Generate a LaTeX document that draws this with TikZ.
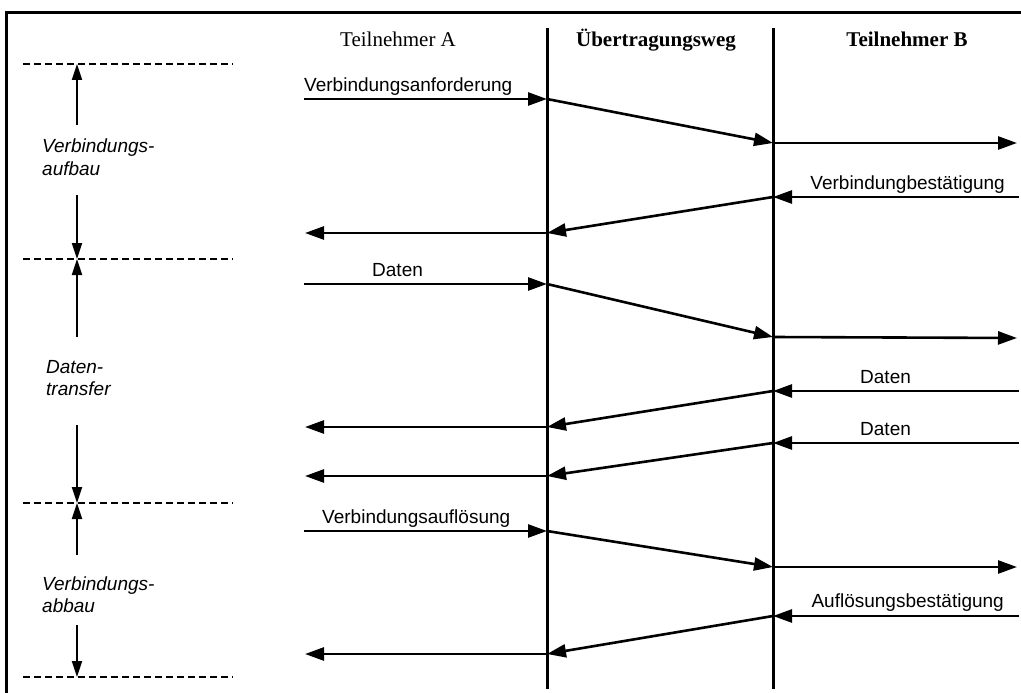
\documentclass[tikz,border=0pt]{standalone}
\usepackage{fontspec}
\setmainfont{Liberation Serif}
\newfontfamily\arialfont{Liberation Sans}
\usetikzlibrary{arrows.meta}

\begin{document}
\begin{tikzpicture}[x=1pt,y=-1pt,
  lane/.style={line width=3pt},
  frameline/.style={line width=3pt},
  msg/.style={line width=2.6pt,-{Triangle[length=19pt,width=13pt]}},
  phase/.style={line width=1.8pt,-{Triangle[length=16pt,width=10pt]}},
  sep/.style={line width=1.8pt,dash pattern=on 7pt off 4pt},
  lbl/.style={font=\arialfont\fontsize{19}{22}\selectfont,inner sep=0pt},
  phaselbl/.style={font=\arialfont\itshape\fontsize{19}{22}\selectfont,inner sep=0pt,anchor=base west},
  head/.style={font=\fontsize{21}{24}\selectfont,inner sep=0pt,anchor=base}
]
\useasboundingbox (0,0) rectangle (1021,693);

% frame (top and left edges)
\coordinate (fl) at (6,700);
\coordinate (ftl) at (6,13);
\coordinate (ftr) at (1030,13);
\draw[frameline] (fl) -- (ftl) -- (ftr);

% headers
\node[head] (hA) at (398,47) {Teilnehmer A};
\node[head,font=\bfseries\fontsize{21}{24}\selectfont] (hW) at (656,47) {Übertragungsweg};
\node[head,font=\bfseries\fontsize{21}{24}\selectfont] (hB) at (907,47) {Teilnehmer B};

% lanes
\coordinate (L1t) at (547,28); \coordinate (L1b) at (547,689);
\coordinate (L2t) at (773,28); \coordinate (L2b) at (773,689);
\draw[lane] (L1t) -- (L1b);
\draw[lane] (L2t) -- (L2b);

% phase separators
\foreach \n/\y in {1/64,2/259,3/503,4/677}{
  \coordinate (s\n l) at (23,\y);
  \coordinate (s\n r) at (233,\y);
  \coordinate (s\n) at (77,\y);
  \draw[sep] (s\n l) -- (s\n r);
}

% phase markers
\coordinate (p1u) at (77,125); \coordinate (p1d) at (77,195);
\coordinate (p2u) at (77,337); \coordinate (p2d) at (77,425);
\coordinate (p3u) at (77,555); \coordinate (p3d) at (77,625);
\draw[phase] (p1u) -- (s1);
\draw[phase] (p1d) -- (s2);
\draw[phase] (p2u) -- (s2);
\draw[phase] (p2d) -- (s3);
\draw[phase] (p3u) -- (s3);
\draw[phase] (p3d) -- (s4);

\node[phaselbl] (t1a) at (42,153) {Verbindungs-};
\node[phaselbl] (t1b) at (42,175) {aufbau};
\node[phaselbl] (t2a) at (46,373) {Daten-};
\node[phaselbl] (t2b) at (46,395) {transfer};
\node[phaselbl] (t3a) at (42,590) {Verbindungs-};
\node[phaselbl] (t3b) at (42,612) {abbau};

% connection request A -> B
\coordinate (m1a) at (304,99); \coordinate (m1b) at (547,99);
\coordinate (m1c) at (773,143); \coordinate (m1d) at (1017,143);
\draw[msg] (m1a) -- (m1b);
\draw[msg] (m1b) -- (m1c);
\draw[msg] (m1c) -- (m1d);
\node[lbl,anchor=base west] (l1) at (304,92) {Verbindungsanforderung};

% confirmation B -> A
\coordinate (m2a) at (1019,197); \coordinate (m2b) at (773,197);
\coordinate (m2c) at (547,233); \coordinate (m2d) at (305,233);
\draw[msg] (m2a) -- (m2b);
\draw[msg] (m2b) -- (m2c);
\draw[msg] (m2c) -- (m2d);
\node[lbl,anchor=base east] (l2) at (1005,189) {Verbindungbestätigung};

% data A -> B
\coordinate (m3a) at (304,284); \coordinate (m3b) at (547,284);
\coordinate (m3c) at (773,337); \coordinate (m3d) at (1017,338);
\draw[msg] (m3a) -- (m3b);
\draw[msg] (m3b) -- (m3c);
\draw[msg] (m3c) -- (m3d);
\node[lbl,anchor=base west] (l3) at (372,276) {Daten};

% data B -> A
\coordinate (m4a) at (1019,391); \coordinate (m4b) at (773,391);
\coordinate (m4c) at (547,427); \coordinate (m4d) at (305,427);
\draw[msg] (m4a) -- (m4b);
\draw[msg] (m4b) -- (m4c);
\draw[msg] (m4c) -- (m4d);
\node[lbl,anchor=base west] (l4) at (860,383) {Daten};

% data B -> A
\coordinate (m5a) at (1019,443); \coordinate (m5b) at (773,443);
\coordinate (m5c) at (547,476); \coordinate (m5d) at (305,476);
\draw[msg] (m5a) -- (m5b);
\draw[msg] (m5b) -- (m5c);
\draw[msg] (m5c) -- (m5d);
\node[lbl,anchor=base west] (l5) at (860,435) {Daten};

% release A -> B
\coordinate (m6a) at (304,531); \coordinate (m6b) at (547,531);
\coordinate (m6c) at (773,567); \coordinate (m6d) at (1017,567);
\draw[msg] (m6a) -- (m6b);
\draw[msg] (m6b) -- (m6c);
\draw[msg] (m6c) -- (m6d);
\node[lbl,anchor=base west] (l6) at (322,523) {Verbindungsauflösung};

% release confirmation B -> A
\coordinate (m7a) at (1019,616); \coordinate (m7b) at (773,616);
\coordinate (m7c) at (547,654); \coordinate (m7d) at (305,654);
\draw[msg] (m7a) -- (m7b);
\draw[msg] (m7b) -- (m7c);
\draw[msg] (m7c) -- (m7d);
\node[lbl,anchor=base east] (l7) at (1004,607) {Auflösungsbestätigung};

\end{tikzpicture}
\end{document}
